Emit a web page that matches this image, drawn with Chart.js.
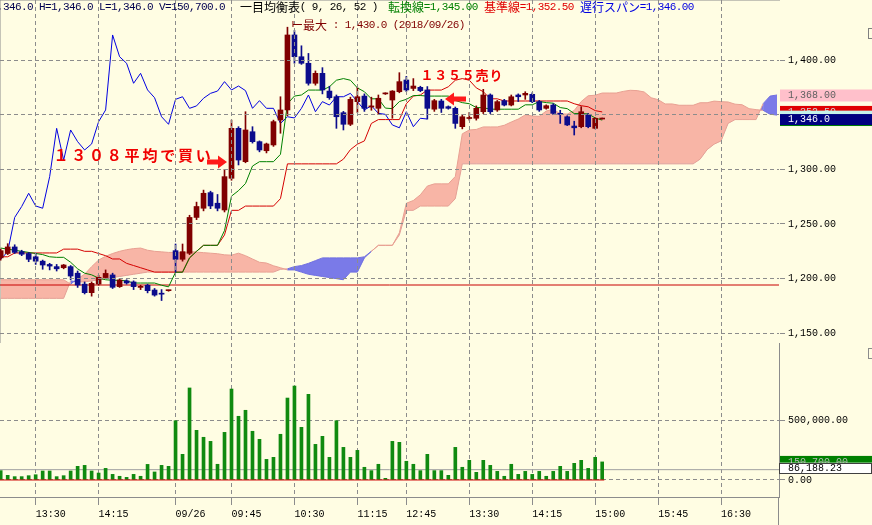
<!DOCTYPE html>
<html>
<head>
<meta charset="utf-8">
<script src="https://cdn.jsdelivr.net/npm/chart.js@4.4.1/dist/chart.umd.min.js"></script>
<style>
  html, body { margin: 0; padding: 0; background: #fffde3; }
  #wrap { position: relative; width: 872px; height: 525px; overflow: hidden; background: #fffde3; }
  canvas { position: absolute; left: 0; }
  #priceChart { top: 0; }
  #volChart { top: 343px; }
</style>
</head>
<body>
<div id="wrap">
  <canvas id="priceChart" width="872" height="343"></canvas>
  <canvas id="volChart" width="872" height="182"></canvas>
</div>
<script>
// 5 min bars, 09/25 13:05 .. 09/26 15:00 (index 0..86)
var opens  = [1219,1223,1229,1224.7,1223,1220,1216,1213,1211,1210,1211,1205,1195,1187.2,1195,1201,1203.4,1192.7,1198,1197,1192,1194,1189.6,1186.5,1189,
  1225.6,1217.7,1223.2,1256,1264.4,1278.7,1269,1262.8,1291.8,1337.5,1307,1334.4,1325.3,1317,1322.3,1345.1,1354.3,1422.9,1403,1397,1378.7,1387.8,1371.6,1366.4,1351.8,
  1341.2,1361.9,1367,1357,1355.8,1369,1363.4,1371,1381.7,1374,1375,1372.6,1355,1362.5,1357.3,1355.8,1339,1346.5,1346.7,1352.7,1368,1354.3,1362.8,1358.8,1368,1368,
  1368.6,1361.9,1355.8,1358.8,1351,1348.1,1339.6,1339,1349.7,1337.5,1346];
var highs  = [1227,1232,1231,1226,1224,1223,1217,1214,1213,1213,1212,1207,1197,1197,1203,1208,1205,1200,1199,1198,1194,1195,1191,1190,1189.5,
  1231.7,1231.7,1258,1270,1281,1280,1277,1300,1345,1339,1352.7,1339,1326,1324,1345,1366.4,1430,1427,1413,1406,1390,1393,1376,1368,1353,
  1366,1375,1369,1366,1368,1370,1372,1388.4,1385,1383,1376,1375.7,1364,1364,1358,1357,1350,1352,1358,1373.2,1369,1363,1364,1368,1369,1371,
  1370,1363,1359,1360,1354,1349,1344,1357.3,1351,1347,1346];
var lows   = [1217,1222,1223,1221,1215.5,1213,1208.6,1208,1207,1209,1199,1192,1186,1184,1194,1200,1191,1192,1195,1190,1190,1187,1184,1180,1188.5,
  1206,1216,1222,1254,1262,1264,1262,1261,1290,1304,1306,1324,1316,1315,1321,1333,1349,1397,1396,1377,1377,1369,1364,1337.5,1336,
  1340,1352,1353,1354,1350,1368.5,1346.7,1370,1371,1372,1371,1346,1353,1352,1355,1337.5,1337,1345,1345,1351,1351,1353,1358,1358,1362,1364,
  1361,1353,1355,1350,1342,1340,1331.4,1338,1338,1337,1346];
var closes = [1225.6,1229,1224,1222.3,1217.7,1216,1212.5,1211.5,1209,1212.5,1202.4,1194.2,1187.2,1195.7,1201.2,1204.8,1192.1,1198.8,1196,1192.7,1193,1189,1185,1185.8,1189.5,
  1217.7,1224.7,1256,1266,1278.1,1266.5,1264.4,1293.3,1337.5,1308.5,1336,1325.3,1317.7,1323.2,1343.6,1354.3,1422.9,1403,1397,1378.7,1387.8,1372.6,1365.5,1348.1,1341.2,
  1364,1366.4,1355.8,1358,1365,1369.5,1371.6,1380.2,1372.6,1376.2,1372,1355.8,1362.8,1355.8,1355.8,1342,1348.1,1347,1355.8,1368,1352.7,1361.9,1358.8,1366.4,1366.4,1369.5,
  1361.9,1354.3,1358.2,1351.2,1350.3,1340.6,1338,1352.7,1339,1346.7,1346];
var volumes = [78000,39000,28000,28000,36000,44000,75000,75000,28000,36000,75000,114000,122000,75000,58000,97000,47000,31000,22000,47000,
  31000,130000,67000,122000,114000,494000,214000,767000,414000,356000,322000,131000,397000,758000,531000,581000,406000,339000,172000,189000,
  381000,683000,783000,439000,714000,297000,364000,189000,494000,272000,189000,247000,106000,78000,131000,14000,322000,314000,156000,131000,
  78000,214000,78000,78000,39000,272000,106000,164000,64000,164000,122000,72000,31000,131000,47000,72000,47000,72000,31000,72000,
  114000,72000,139000,164000,97000,189000,150700];
var avgVolume = 86188.23;

// ichimoku lines
var tenkan = [1228,1227,1226,1225,1224,1223,1222,1220,1219.5,1219.5,1215,1209,1205,1203.5,1200.5,1199,1198.5,1198.5,1198,1196,
  1196,1196,1196,1194,1192.5,1205.9,1205.9,1219,1225,1230.5,1230.5,1230.5,1244,1275.5,1280.5,1287,1303,1307,1307,1307,
  1313.7,1360,1367,1368,1372.5,1372.5,1372.5,1375.5,1381.5,1383,1381.5,1374.5,1371,1364.5,1364.5,1356,1355.5,1362,1364,1367.5,
  1367.5,1367,1367,1367,1367,1363,1361,1360,1356.5,1356.4,1355,1355,1355,1355,1355,1359,1359,1362,1361,1360.5,
  1356.5,1355.5,1351,1351,1350.7,1347,1345];
var kijun = [1220,1220,1223.5,1223.5,1223.5,1223.5,1223.5,1223.5,1223.5,1227,1227,1227,1225,1225,1223,1221,1218,1218,1214,1212,
  1210,1208,1206,1206,1206,1206,1206,1219,1225,1230.5,1230.5,1230.5,1240,1262.5,1262.5,1266.4,1266.4,1266.4,1266.4,1266.4,
  1273.2,1305,1305,1305,1305,1305,1305,1305,1305,1309.3,1318,1323,1326,1342,1345.5,1345.5,1345.5,1345.5,1360,1367,
  1368,1372.5,1372.5,1372.5,1375.5,1381.5,1383,1381.5,1374.5,1371,1364.5,1364.5,1362.5,1362.5,1362.5,1362.5,1362.5,1362.5,1362.5,1362.5,
  1362.5,1362.5,1360,1358.2,1357.2,1353.7,1352.5];
var senkouA = [1199,1199,1199,1199,1199,1199,1199,1199,1199,1199,1195,1200,1204,1211,1217,1220.5,1223,1225,1226.5,1227.5,
  1228,1226,1225,1224.5,1224,1224,1223.5,1224.8,1224.3,1223.8,1223.3,1222.8,1221.8,1221.5,1223.3,1221,1218,1215,1214.3,1211.8,
  1210,1208,1208,1206,1204,1203,1202,1201,1200,1199,1206,1206,1219,1225,1230.5,1230.5,1230.5,1242,1269,1271.5,
  1276.7,1284.7,1286.7,1286.7,1286.7,1293.5,1332.5,1336,1336.5,1338.8,1338.8,1338.8,1340.3,1343.3,1346,1349.8,1348.8,1348.5,1353.3,1355,
  1350.8,1350.5,1353.8,1362,1367.3,1367.8,1369.8,1369.8,1369.8,1371.3,1372.3,1372,1370.8,1365.5,1363.7,1359.8,1359.8,1358.6,1358.6,1358.6,
  1360.9,1360.9,1362.4,1361.9,1361.6,1359.6,1359.1,1355.5,1354.6,1354,1350.4,1349.6];
var senkouB = [1182,1182,1182,1182,1182,1182,1182,1182,1182,1182,1198,1197,1197,1198,1199,1200,1201,1202,1203,1204,
  1205,1206,1206,1206,1206,1206,1206,1206,1206,1206,1206,1206,1206,1206,1206,1206,1206,1206,1206,1206,
  1208.5,1209,1211,1212,1214,1216.5,1219,1219,1219,1219,1219,1219,1220,1225,1230.5,1230.5,1230.5,1240,1262.5,1262.5,
  1266.4,1266.4,1266.4,1266.4,1266.4,1273.2,1305,1305,1305,1305,1305,1305,1305,1305,1305,1305,1305,1305,1305,1305,
  1305,1305,1305,1305,1305,1305,1305,1305,1305,1305,1305,1305,1305,1305,1305,1305,1305,1305,1305,1305,
  1309.3,1318,1323,1326,1342,1345.5,1345.5,1345.5,1345.5,1360,1367,1368];
var lagShift = 25;          // chikou span is the close drawn 25 bars back
var refPrice = 1194.2;      // red horizontal reference line
var maxPrice = 1430.0;

// axes
var xMin = -0.1, xMax = 111.28;
var timeTickIdx = [5, 14, 25, 33, 42, 51, 58, 67, 76, 85, 94, 103];
var timeLabels = ['13:30','14:15','09/26','09:45','10:30','11:15','12:45','13:30','14:15','15:00','15:45','16:30'];
var priceTicks = [1150, 1200, 1250, 1300, 1350, 1400];
var priceMin = 1141.15, priceMax = 1454.88;
var volTicks = [0, 500000];
var volMin = -141667, volMax = 1141667;

var gridGray = '#8c8c8c';
var upColor = '#800000', downColor = '#0c0c8c';
var cloudPink = 'rgb(248,181,166)', cloudBlue = 'rgb(122,122,232)';
var MONO = "'Liberation Mono', 'DejaVu Sans Mono', monospace";
var JP = "'Noto Sans CJK JP', sans-serif";

Chart.defaults.font.family = MONO;
Chart.defaults.font.size = 10;
Chart.defaults.color = '#000';

function fmt(v, d) {
  return v.toLocaleString('en-US', {minimumFractionDigits: d, maximumFractionDigits: d});
}
function pts(arr) {
  return arr.map(function (v, i) { return {x: i, y: v}; });
}

var candleColors = opens.map(function (o, i) { return closes[i] >= o ? upColor : downColor; });
var bodies = opens.map(function (o, i) { return {x: i, y: [o, closes[i]]}; });
var wicks = lows.map(function (l, i) { return {x: i, y: [l, highs[i]]}; });
var chikou = closes.slice(lagShift).map(function (c, i) { return {x: i, y: c}; });
var last = closes.length - 1;

// text in fixed cells: half width 6px, full width 12px
function cells(ctx, str, x, y, color) {
  var cx = x;
  ctx.fillStyle = color;
  ctx.textAlign = 'center';
  ctx.textBaseline = 'middle';
  for (var k = 0; k < str.length; k++) {
    var ch = str[k];
    var wide = ch.charCodeAt(0) > 0xff;
    ctx.font = wide ? '12px ' + JP : '11px ' + MONO;
    ctx.fillText(ch, cx + (wide ? 6 : 3), y);
    cx += wide ? 12 : 6;
  }
}
function bigText(ctx, str, x, y, step, size) {
  ctx.fillStyle = '#f00000';
  ctx.textAlign = 'center';
  ctx.textBaseline = 'middle';
  ctx.font = 'bold ' + size + 'px ' + JP;
  for (var k = 0; k < str.length; k++) ctx.fillText(str[k], x + step * k + step / 2, y);
}
function arrow(ctx, x0, x1, y) {
  var dir = x1 > x0 ? 1 : -1;
  var hx = x1 - dir * 9;
  ctx.fillStyle = '#ff1a1a';
  ctx.beginPath();
  ctx.moveTo(x0, y - 2.5);
  ctx.lineTo(hx, y - 2.5);
  ctx.lineTo(hx, y - 6.5);
  ctx.lineTo(x1, y);
  ctx.lineTo(hx, y + 6.5);
  ctx.lineTo(hx, y + 2.5);
  ctx.lineTo(x0, y + 2.5);
  ctx.closePath();
  ctx.fill();
}
// label box on the right axis: top/bottom offsets from the value pixel
function valueBox(ctx, y, up, down, fill, txtColor, text, stroke) {
  ctx.fillStyle = fill;
  ctx.fillRect(780, y - up, 92, up + down);
  if (stroke) {
    ctx.strokeStyle = stroke;
    ctx.lineWidth = 1;
    ctx.strokeRect(779.5, Math.round(y - up) + 0.5, 92, Math.round(up + down) - 1);
  }
  ctx.fillStyle = txtColor;
  ctx.font = '10px ' + MONO;
  ctx.textAlign = 'left';
  ctx.textBaseline = 'middle';
  ctx.fillText(text, 788, y + 0.5);
}

var priceOverlay = {
  id: 'priceOverlay',
  afterDraw: function (chart) {
    var ctx = chart.ctx, ys = chart.scales.y, xs = chart.scales.x;
    ctx.save();
    // header line
    var hdr = 'O=' + fmt(opens[last], 1) + ' H=' + fmt(highs[last], 1) + ' L=' + fmt(lows[last], 1) + ' V=' + fmt(volumes[last], 1);
    cells(ctx, hdr, -20.7, 7, '#000050');
    cells(ctx, '一目均衡表( 9, 26, 52 )', 240, 7, '#000');
    cells(ctx, '転換線=' + fmt(tenkan[last], 2), 388, 7, '#008000');
    cells(ctx, '基準線=' + fmt(kijun[last], 2), 484, 7, '#e00000');
    cells(ctx, '遅行スパン=' + fmt(closes[last], 2), 580, 7, '#0000e0');
    // max marker
    var mx = xs.getPixelForValue(41) + 5.5, my = 24;
    ctx.strokeStyle = '#800000';
    ctx.lineWidth = 1;
    ctx.beginPath();
    ctx.moveTo(mx, my - 3); ctx.lineTo(mx, my + 3);
    ctx.moveTo(mx, my + 0.5); ctx.lineTo(mx + 9, my + 0.5);
    ctx.stroke();
    cells(ctx, '最大 : ' + fmt(maxPrice, 1) + ' (2018/09/26)', 303, 25, '#800000');
    // trade notes
    bigText(ctx, '１３０８平均で買い', 52, 155, 17.8, 15);
    arrow(ctx, 207, 227, 162);
    bigText(ctx, '１３５５売り', 420, 75, 13.8, 13);
    arrow(ctx, 466, 445, 99);
    // last value boxes on the price axis
    var lastB = senkouB[senkouB.length - 1];
    valueBox(ctx, ys.getPixelForValue(lastB), 5.5, 6.5, '#ffc0cb', '#606060', fmt(lastB, 2));
    valueBox(ctx, ys.getPixelForValue(kijun[last]), 6, 6, '#e00000', '#d0d0d0', fmt(kijun[last], 2));
    var yt = ys.getPixelForValue(tenkan[last]);
    valueBox(ctx, yt, 9.5, 6, '#c6f2ea', '#008000', fmt(tenkan[last], 2));
    ctx.fillStyle = '#008000';
    ctx.fillRect(780, Math.round(yt + 5), 92, 1);
    var yc = ys.getPixelForValue(closes[last]);
    valueBox(ctx, yc, 5, 6, '#000080', '#ffffff', fmt(closes[last], 1));
    // small box top right
    ctx.strokeStyle = '#808080';
    ctx.strokeRect(868.5, 28.5, 6, 10);
    ctx.restore();
  }
};

var volOverlay = {
  id: 'volOverlay',
  afterDraw: function (chart) {
    var ctx = chart.ctx, ys = chart.scales.y;
    ctx.save();
    valueBox(ctx, ys.getPixelForValue(volumes[last]), 6, 6, '#008000', '#b8b8b8', fmt(volumes[last], 2));
    valueBox(ctx, ys.getPixelForValue(avgVolume) - 1.5, 5.5, 5.5, '#ffffff', '#000000', fmt(avgVolume, 2), '#404040');
    ctx.strokeStyle = gridGray;
    ctx.lineWidth = 1;
    ctx.beginPath();
    ctx.moveTo(778.5, chart.chartArea.bottom);
    ctx.lineTo(778.5, chart.height);
    ctx.stroke();
    ctx.strokeRect(868.5, 5.5, 6, 10);
    ctx.restore();
  }
};

function segColor(c) {
  var i = c.p0DataIndex;
  return senkouB[i] > senkouA[i] ? 'rgb(110,110,225)' : 'rgb(232,160,146)';
}

var xTickBuild = function (s) { s.ticks = timeTickIdx.map(function (v) { return {value: v}; }); };

new Chart(document.getElementById('priceChart'), {
  type: 'bar',
  data: {
    datasets: [
      {label: 'body', data: bodies, backgroundColor: candleColors, barThickness: 5, minBarLength: 1, grouped: false, order: 0},
      {label: 'wick', data: wicks, backgroundColor: candleColors, barThickness: 1, minBarLength: 1, grouped: false, order: 1},
      {type: 'line', label: 'tenkan', data: pts(tenkan), borderColor: '#008000', borderWidth: 1, pointRadius: 0, order: 2},
      {type: 'line', label: 'kijun', data: pts(kijun), borderColor: '#d40000', borderWidth: 1, pointRadius: 0, order: 3},
      {type: 'line', label: 'chikou', data: chikou, borderColor: '#0000e0', borderWidth: 1, pointRadius: 0, order: 4},
      {type: 'line', label: 'ref', data: [{x: xMin, y: refPrice}, {x: xMax, y: refPrice}], borderColor: '#c80000', borderWidth: 1, pointRadius: 0, order: 5},
      {type: 'line', label: 'senkouA', data: pts(senkouA), borderWidth: 1, pointRadius: 0, order: 6,
        segment: {borderColor: segColor}, fill: {target: 7, above: cloudPink, below: cloudBlue}},
      {type: 'line', label: 'senkouB', data: pts(senkouB), borderWidth: 1, pointRadius: 0, order: 7,
        segment: {borderColor: segColor}, fill: false}
    ]
  },
  options: {
    responsive: false,
    animation: false,
    devicePixelRatio: 1,
    events: [],
    layout: {padding: 0},
    plugins: {legend: {display: false}, tooltip: {enabled: false}, filler: {drawTime: 'beforeDatasetsDraw'}},
    scales: {
      x: {
        type: 'linear', min: xMin, max: xMax, offset: false,
        afterBuildTicks: xTickBuild,
        ticks: {display: false},
        grid: {color: gridGray, drawTicks: false, offset: false, z: 1},
        border: {display: true, color: gridGray, dash: [4, 3]},
        afterFit: function (s) { s.height = 0; s.paddingLeft = 0; s.paddingRight = 0; }
      },
      y: {
        position: 'right', min: priceMin, max: priceMax,
        afterBuildTicks: function (s) { s.ticks = priceTicks.map(function (v) { return {value: v}; }); },
        ticks: {padding: 3, callback: function (v) { return fmt(v, 2); }},
        grid: {color: gridGray, tickLength: 6, z: 1},
        border: {display: true, color: gridGray, dash: [4, 3]},
        afterFit: function (s) { s.width = 93; s.paddingTop = 0; s.paddingBottom = 0; }
      }
    }
  },
  plugins: [priceOverlay]
});

new Chart(document.getElementById('volChart'), {
  type: 'bar',
  data: {
    datasets: [
      {type: 'line', label: 'zero', data: [{x: xMin, y: 0}, {x: last + 0.3, y: 0}], borderColor: '#d00000', borderWidth: 1, pointRadius: 0, order: 0},
      {label: 'volume', data: pts(volumes), backgroundColor: '#108a10', barThickness: 3, grouped: false, order: 1},
      {type: 'line', label: 'avg', data: [{x: xMin, y: avgVolume}, {x: xMax, y: avgVolume}], borderColor: '#a0a0a0', borderWidth: 1, pointRadius: 0, order: 2}
    ]
  },
  options: {
    responsive: false,
    animation: false,
    devicePixelRatio: 1,
    events: [],
    layout: {padding: 0},
    plugins: {legend: {display: false}, tooltip: {enabled: false}},
    scales: {
      x: {
        type: 'linear', min: xMin, max: xMax, offset: false,
        afterBuildTicks: xTickBuild,
        ticks: {autoSkip: false, maxRotation: 0, align: 'start', padding: 3,
          callback: function (v) { return timeLabels[timeTickIdx.indexOf(v)]; }},
        grid: {color: gridGray, tickLength: 8, offset: false},
        border: {display: true, color: gridGray, dash: [4, 3]},
        afterFit: function (s) { s.height = 28; s.paddingLeft = 0; s.paddingRight = 0; }
      },
      y: {
        position: 'right', min: volMin, max: volMax,
        afterBuildTicks: function (s) { s.ticks = volTicks.map(function (v) { return {value: v}; }); },
        ticks: {padding: 3, callback: function (v) { return fmt(v, 2); }},
        grid: {color: gridGray, tickLength: 6},
        border: {display: true, color: gridGray, dash: [4, 3]},
        afterFit: function (s) { s.width = 93; s.paddingTop = 0; s.paddingBottom = 0; }
      }
    }
  },
  plugins: [volOverlay]
});
</script>
</body>
</html>
